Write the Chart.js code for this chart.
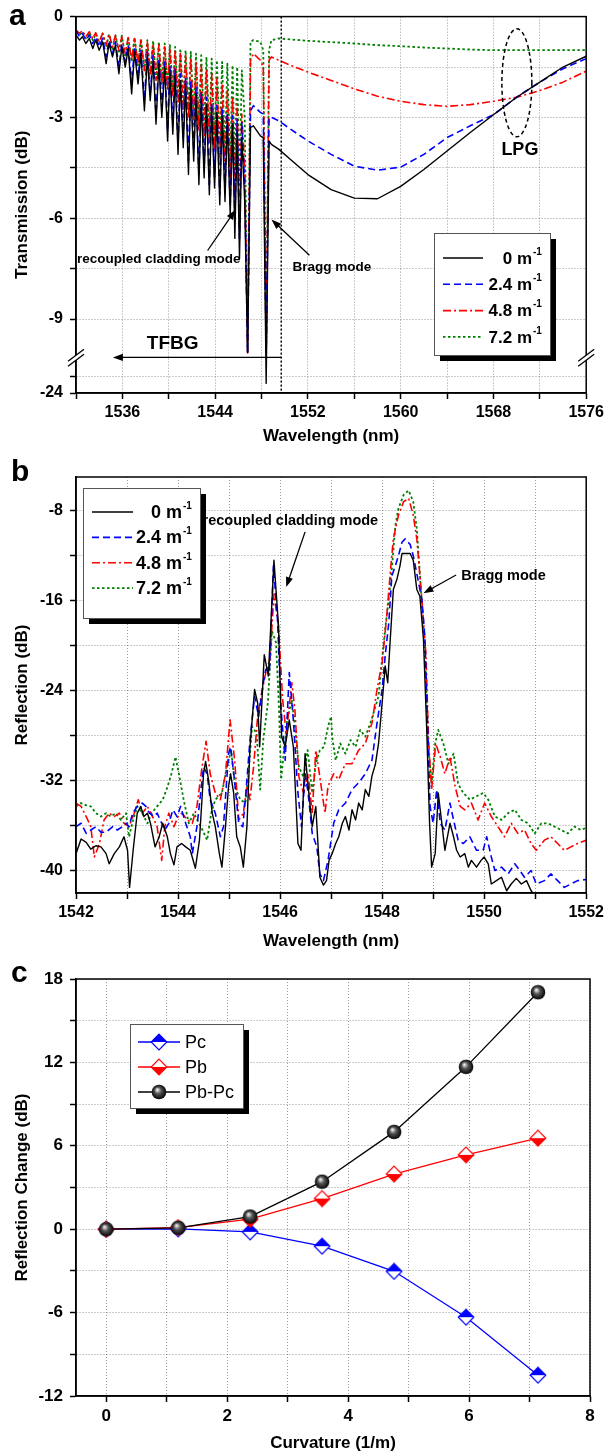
<!DOCTYPE html>
<html>
<head>
<meta charset="utf-8">
<script src="https://cdn.jsdelivr.net/npm/chart.js@4.4.0/dist/chart.umd.min.js"></script>
<style>
  html, body { margin: 0; padding: 0; background: #fff; }
  body { width: 608px; height: 1456px; position: relative; overflow: hidden; }
  canvas { position: absolute; left: 0; }
</style>
</head>
<body>
<canvas id="chartA" width="608" height="450" style="top:0"></canvas>
<canvas id="chartB" width="608" height="505" style="top:450px"></canvas>
<canvas id="chartC" width="608" height="501" style="top:955px"></canvas>
<script>
// ---- panel a : transmission (dB) vs wavelength (nm) ----
const curvLabels = ['0', '2.4', '4.8', '7.2'];

const combWaveA = [1532.0, 1532.3, 1532.55, 1532.85, 1533.15, 1533.45, 1533.7, 1534.0, 1534.3, 1534.6,
  1534.85, 1535.15, 1535.4, 1535.7, 1535.95, 1536.25, 1536.5, 1536.8, 1537.05, 1537.35,
  1537.6, 1537.9, 1538.15, 1538.4, 1538.65, 1538.9, 1539.15, 1539.4, 1539.65, 1539.9,
  1540.1, 1540.35, 1540.55, 1540.8, 1541.0, 1541.25, 1541.45, 1541.7, 1541.9, 1542.15,
  1542.35, 1542.6, 1542.8, 1543.05, 1543.25, 1543.5, 1543.7, 1543.95, 1544.15, 1544.4,
  1544.6, 1544.85, 1545.05, 1545.3, 1545.5, 1545.7, 1545.9, 1546.1, 1546.3];
const tailWaveA = [1546.55, 1546.8, 1547.05, 1547.3, 1547.9, 1548.15, 1548.4, 1548.65, 1548.85, 1549.5,
  1550.5, 1552, 1554, 1556, 1558, 1560, 1562, 1564, 1566, 1568, 1570, 1572, 1574, 1576];

const combA0 = [-0.55, -0.7, -0.6, -0.8, -0.65, -0.95, -0.7, -1.0, -0.75, -1.4, -0.8, -1.2, -0.85, -1.7, -0.9, -1.5,
  -0.95, -2.3, -1.05, -2.0, -1.1, -2.8, -1.2, -2.5, -1.3, -3.2, -1.4, -3.0, -1.5, -3.7, -1.6, -3.5, -1.75, -4.1,
  -1.9, -3.9, -2.0, -4.7, -2.15, -4.3, -2.3, -5.0, -2.45, -4.8, -2.6, -5.3, -2.75, -5.1, -2.85, -5.6, -2.95, -5.5,
  -3.05, -5.9, -3.2, -6.6, -3.4, -7.2, -3.6];
const tailA0 = [-5.5, -10.0, -3.3, -3.25, -3.55, -3.6, -23.7, -3.7, -3.8, -3.95, -4.25, -4.7, -5.15, -5.4, -5.42,
  -5.05, -4.55, -4.0, -3.45, -2.92, -2.4, -1.95, -1.5, -1.18];

const combA24 = [-0.4, -0.6, -0.5, -0.7, -0.55, -0.8, -0.6, -0.9, -0.65, -1.2, -0.7, -1.1, -0.75, -1.5, -0.8, -1.35,
  -0.85, -2.0, -0.9, -1.8, -1.0, -2.5, -1.05, -2.3, -1.15, -2.9, -1.25, -2.7, -1.35, -3.4, -1.45, -3.2, -1.55, -3.8,
  -1.7, -3.6, -1.8, -4.3, -1.95, -4.0, -2.1, -4.7, -2.25, -4.5, -2.4, -5.0, -2.55, -4.8, -2.65, -5.3, -2.75, -5.2,
  -2.85, -5.6, -2.95, -6.0, -3.05, -6.6, -3.15];
const tailA24 = [-5.0, -10.0, -2.8, -2.65, -2.85, -2.9, -10.0, -3.0, -3.0, -3.1, -3.35, -3.7, -4.1, -4.45, -4.57,
  -4.48, -4.1, -3.6, -3.25, -2.92, -2.4, -1.95, -1.55, -1.25];

const combA48 = [-0.4, -0.5, -0.42, -0.6, -0.45, -0.65, -0.48, -0.75, -0.5, -0.85, -0.52, -0.9, -0.55, -1.0, -0.6, -1.1,
  -0.62, -1.3, -0.65, -1.4, -0.7, -1.6, -0.75, -1.7, -0.8, -1.9, -0.85, -2.0, -0.9, -2.2, -0.95, -2.4, -1.0, -2.6,
  -1.1, -2.8, -1.15, -3.0, -1.25, -3.2, -1.35, -3.4, -1.45, -3.6, -1.55, -3.8, -1.7, -4.0, -1.85, -4.2, -2.0, -4.5,
  -2.2, -4.8, -2.4, -5.4, -2.6, -6.2, -2.9];
const tailA48 = [-4.5, -10.0, -1.3, -1.1, -1.3, -1.5, -10.0, -1.3, -1.2, -1.3, -1.45, -1.65, -1.9, -2.15, -2.37,
  -2.52, -2.62, -2.67, -2.62, -2.52, -2.4, -2.2, -1.95, -1.62];

const combA72 = [-0.45, -0.55, -0.45, -0.65, -0.47, -0.7, -0.5, -0.8, -0.5, -0.9, -0.52, -1.0, -0.55, -1.1, -0.57, -1.2,
  -0.6, -1.35, -0.62, -1.45, -0.65, -1.6, -0.7, -1.7, -0.72, -1.85, -0.75, -2.0, -0.8, -2.15, -0.85, -2.3, -0.9, -2.45,
  -0.95, -2.6, -1.0, -2.8, -1.05, -3.0, -1.1, -3.2, -1.15, -3.35, -1.2, -3.5, -1.25, -3.7, -1.3, -3.9, -1.35, -4.1,
  -1.4, -4.3, -1.45, -4.6, -1.5, -5.0, -1.6];
const tailA72 = [-3.0, -10.0, -0.75, -0.7, -0.75, -1.0, -10.0, -1.0, -0.7, -0.65, -0.68, -0.72, -0.76, -0.8, -0.85,
  -0.88, -0.92, -0.95, -0.98, -1.0, -1.0, -1.0, -1.0, -1.0];

const xTicksA = [1532, 1536, 1540, 1544, 1548, 1552, 1556, 1560, 1564, 1568, 1572, 1576];
const yTicksA = [0, -1.5, -3, -4.5, -6, -7.5, -9, -23.5, -24];
const yLabelsA = [0, -3, -6, -9, -24];

// ---- panel b : reflection (dB) vs wavelength (nm) ----
const reflB0 = [[1542.00,-38.5],[1542.10,-37.2],[1542.20,-37.5],[1542.29,-38.1],[1542.39,-37.8],[1542.49,-37.9],
  [1542.59,-38.5],[1542.65,-39.4],[1542.75,-38.5],[1542.85,-37.9],[1542.94,-37.0],[1543.01,-38.2],[1543.05,-41.5],
  [1543.12,-38.2],[1543.20,-34.9],[1543.27,-34.3],[1543.33,-35.2],[1543.40,-34.9],[1543.46,-35.8],[1543.55,-37.9],
  [1543.63,-37.0],[1543.70,-35.8],[1543.79,-37.0],[1543.85,-38.5],[1543.92,-39.5],[1543.98,-37.9],[1544.07,-37.6],
  [1544.15,-37.9],[1544.24,-38.2],[1544.34,-39.8],[1544.42,-37.3],[1544.50,-31.4],[1544.54,-30.3],[1544.60,-32.0],
  [1544.67,-34.9],[1544.73,-36.1],[1544.81,-38.5],[1544.86,-39.7],[1544.93,-36.1],[1544.99,-32.5],[1545.03,-31.4],
  [1545.09,-33.1],[1545.15,-37.0],[1545.22,-37.9],[1545.28,-39.7],[1545.35,-36.1],[1545.41,-29.0],[1545.50,-23.9],
  [1545.56,-25.1],[1545.60,-29.0],[1545.69,-20.8],[1545.77,-22.7],[1545.88,-12.4],[1545.97,-18.3],[1546.03,-28.1],
  [1546.10,-29.0],[1546.18,-26.6],[1546.26,-29.0],[1546.35,-37.6],[1546.41,-38.2],[1546.49,-29.6],[1546.55,-32.5],
  [1546.63,-36.1],[1546.70,-34.3],[1546.78,-40.6],[1546.85,-41.3],[1546.91,-40.9],[1546.96,-39.1],[1547.02,-38.5],
  [1547.09,-37.6],[1547.15,-37.0],[1547.22,-35.8],[1547.28,-35.2],[1547.35,-36.4],[1547.41,-34.6],[1547.48,-35.5],
  [1547.54,-34.0],[1547.61,-34.6],[1547.67,-32.8],[1547.74,-33.4],[1547.80,-31.6],[1547.87,-30.5],[1547.93,-28.7],
  [1548.00,-25.1],[1548.06,-21.8],[1548.11,-23.3],[1548.16,-19.4],[1548.22,-15.0],[1548.29,-14.1],[1548.35,-12.9],
  [1548.39,-11.8],[1548.55,-11.8],[1548.61,-12.4],[1548.68,-15.0],[1548.74,-15.6],[1548.81,-19.4],[1548.87,-26.9],
  [1548.93,-35.8],[1548.97,-39.7],[1549.04,-38.5],[1549.10,-33.1],[1549.17,-35.8],[1549.23,-38.2],[1549.33,-35.8],
  [1549.40,-37.0],[1549.46,-38.2],[1549.53,-38.8],[1549.62,-38.5],[1549.69,-39.7],[1549.75,-39.1],[1549.85,-39.7],
  [1549.94,-39.1],[1550.00,-38.8],[1550.08,-39.4],[1550.14,-41.2],[1550.24,-40.9],[1550.34,-40.6],[1550.44,-41.8],
  [1550.53,-41.2],[1550.63,-40.7],[1550.73,-41.2],[1550.83,-40.9],[1550.92,-41.8],[1550.99,-42.2],[1551.10,-42.6],
  [1551.30,-42.1],[1551.50,-42.5],[1551.80,-42.8],[1552.00,-42.6]];

const reflB24 = [[1542.00,-36.1],[1542.10,-35.8],[1542.20,-36.7],[1542.29,-36.4],[1542.39,-36.1],[1542.49,-36.6],
  [1542.59,-36.6],[1542.72,-36.1],[1542.81,-36.4],[1542.91,-36.1],[1542.98,-35.8],[1543.04,-36.1],[1543.11,-34.9],
  [1543.20,-34.3],[1543.30,-34.0],[1543.37,-34.3],[1543.44,-34.9],[1543.53,-35.2],[1543.59,-34.9],[1543.68,-35.8],
  [1543.74,-36.4],[1543.82,-35.8],[1543.90,-34.6],[1543.98,-35.2],[1544.05,-34.3],[1544.15,-35.8],[1544.24,-37.0],
  [1544.28,-38.5],[1544.37,-36.1],[1544.50,-30.8],[1544.57,-31.4],[1544.63,-33.7],[1544.73,-34.9],[1544.83,-37.0],
  [1544.89,-36.1],[1544.99,-29.6],[1545.03,-29.0],[1545.10,-31.7],[1545.19,-35.8],[1545.27,-36.1],[1545.33,-33.1],
  [1545.41,-28.4],[1545.50,-24.5],[1545.58,-26.3],[1545.66,-23.6],[1545.72,-22.1],[1545.79,-22.4],[1545.87,-12.9],
  [1545.95,-17.7],[1546.02,-25.7],[1546.10,-30.2],[1546.18,-22.4],[1546.26,-26.6],[1546.35,-33.1],[1546.42,-36.1],
  [1546.49,-31.4],[1546.55,-33.1],[1546.63,-36.7],[1546.72,-37.9],[1546.78,-40.3],[1546.85,-40.9],[1546.94,-39.1],
  [1547.05,-35.8],[1547.15,-34.6],[1547.28,-34.0],[1547.41,-32.8],[1547.54,-32.2],[1547.67,-31.4],[1547.80,-30.2],
  [1547.90,-26.9],[1548.00,-23.9],[1548.06,-20.9],[1548.13,-18.0],[1548.19,-13.8],[1548.26,-12.9],[1548.32,-12.0],
  [1548.39,-10.8],[1548.45,-10.5],[1548.55,-11.0],[1548.61,-12.0],[1548.68,-13.6],[1548.78,-15.9],[1548.84,-19.4],
  [1548.89,-26.9],[1548.94,-34.3],[1549.00,-35.8],[1549.07,-32.8],[1549.14,-35.8],[1549.23,-36.4],[1549.33,-34.0],
  [1549.40,-35.5],[1549.49,-37.3],[1549.59,-37.6],[1549.72,-37.0],[1549.85,-38.2],[1549.98,-38.2],[1550.05,-37.0],
  [1550.14,-38.8],[1550.21,-40.0],[1550.34,-39.7],[1550.47,-40.3],[1550.60,-39.4],[1550.70,-40.0],[1550.79,-40.6],
  [1550.92,-40.0],[1551.02,-41.2],[1551.18,-40.9],[1551.31,-40.3],[1551.44,-40.9],[1551.57,-41.5],[1551.70,-41.2],
  [1551.83,-40.9],[1552.00,-40.8]];

const reflB48 = [[1542.00,-34.0],[1542.10,-34.3],[1542.20,-35.2],[1542.29,-36.1],[1542.36,-38.8],[1542.46,-37.6],
  [1542.55,-35.5],[1542.65,-34.9],[1542.75,-35.2],[1542.85,-34.9],[1542.94,-35.8],[1543.04,-36.1],[1543.14,-34.9],
  [1543.22,-33.7],[1543.30,-34.9],[1543.40,-34.3],[1543.50,-35.2],[1543.59,-36.1],[1543.68,-39.1],[1543.74,-36.1],
  [1543.82,-34.9],[1543.92,-36.1],[1544.00,-35.2],[1544.08,-34.9],[1544.18,-35.5],[1544.28,-35.8],[1544.37,-34.3],
  [1544.47,-30.8],[1544.55,-28.5],[1544.63,-31.4],[1544.73,-33.1],[1544.83,-33.7],[1544.93,-31.4],[1545.02,-26.6],
  [1545.11,-30.2],[1545.19,-35.5],[1545.28,-34.9],[1545.35,-32.5],[1545.41,-33.7],[1545.48,-30.8],[1545.56,-26.3],
  [1545.64,-24.2],[1545.72,-22.4],[1545.80,-21.2],[1545.88,-15.4],[1545.97,-18.3],[1546.05,-24.8],[1546.12,-27.8],
  [1546.23,-23.3],[1546.29,-25.7],[1546.37,-31.7],[1546.46,-33.1],[1546.55,-31.4],[1546.63,-34.9],[1546.70,-29.3],
  [1546.78,-31.7],[1546.88,-34.9],[1546.94,-32.5],[1547.05,-31.4],[1547.15,-31.9],[1547.28,-30.5],[1547.41,-30.5],
  [1547.54,-29.3],[1547.67,-28.7],[1547.80,-26.9],[1547.90,-23.9],[1548.00,-21.5],[1548.09,-17.4],[1548.16,-13.5],
  [1548.22,-10.5],[1548.32,-8.4],[1548.42,-7.2],[1548.52,-6.9],[1548.61,-8.4],[1548.68,-10.5],[1548.78,-15.9],
  [1548.86,-20.9],[1548.91,-28.4],[1548.97,-32.8],[1549.05,-28.7],[1549.14,-29.9],[1549.23,-31.4],[1549.33,-29.9],
  [1549.43,-32.5],[1549.53,-34.3],[1549.62,-34.6],[1549.75,-34.0],[1549.88,-35.5],[1550.01,-34.0],[1550.14,-35.2],
  [1550.27,-36.1],[1550.40,-37.0],[1550.53,-35.8],[1550.66,-36.7],[1550.79,-36.4],[1550.92,-37.6],[1551.02,-38.2],
  [1551.18,-37.3],[1551.31,-37.0],[1551.44,-37.6],[1551.57,-38.2],[1551.70,-37.9],[1551.83,-37.6],[1552.00,-37.3]];

const reflB72 = [[1542.00,-34.3],[1542.10,-34.0],[1542.20,-34.2],[1542.29,-34.3],[1542.39,-34.9],[1542.49,-35.2],
  [1542.59,-34.9],[1542.68,-35.2],[1542.78,-34.9],[1542.88,-35.5],[1542.98,-34.9],[1543.04,-37.0],[1543.12,-35.5],
  [1543.20,-34.3],[1543.30,-34.9],[1543.40,-35.8],[1543.48,-34.9],[1543.59,-34.3],[1543.70,-33.7],[1543.79,-32.6],
  [1543.87,-31.4],[1543.95,-29.9],[1544.03,-31.7],[1544.11,-33.7],[1544.21,-35.8],[1544.31,-34.9],[1544.41,-35.8],
  [1544.48,-36.4],[1544.57,-37.3],[1544.65,-34.9],[1544.73,-33.7],[1544.86,-33.1],[1544.96,-30.8],[1545.04,-29.3],
  [1545.12,-32.6],[1545.22,-33.7],[1545.32,-34.0],[1545.38,-31.4],[1545.45,-27.2],[1545.54,-27.8],[1545.61,-32.8],
  [1545.67,-28.4],[1545.76,-25.1],[1545.84,-18.7],[1545.92,-19.7],[1545.98,-25.7],[1546.02,-31.9],[1546.07,-29.6],
  [1546.14,-26.6],[1546.23,-24.8],[1546.29,-27.2],[1546.37,-30.8],[1546.46,-31.7],[1546.54,-29.3],[1546.63,-33.1],
  [1546.70,-30.5],[1546.78,-29.3],[1546.86,-29.0],[1546.94,-27.2],[1547.00,-26.3],[1547.02,-28.1],[1547.09,-30.2],
  [1547.18,-28.7],[1547.28,-29.6],[1547.38,-28.4],[1547.48,-29.0],[1547.57,-27.5],[1547.67,-28.1],[1547.77,-26.9],
  [1547.87,-25.4],[1547.93,-24.5],[1548.00,-21.2],[1548.06,-18.5],[1548.13,-15.9],[1548.19,-13.2],[1548.26,-9.3],
  [1548.32,-7.8],[1548.42,-6.6],[1548.52,-6.2],[1548.61,-7.2],[1548.68,-9.6],[1548.76,-15.0],[1548.84,-20.9],
  [1548.91,-29.3],[1548.97,-32.2],[1549.04,-28.7],[1549.10,-27.5],[1549.20,-28.7],[1549.30,-30.5],[1549.40,-29.6],
  [1549.49,-32.3],[1549.59,-33.1],[1549.72,-33.7],[1549.85,-33.4],[1549.98,-33.1],[1550.08,-33.7],[1550.21,-35.2],
  [1550.34,-35.5],[1550.47,-34.9],[1550.60,-34.6],[1550.73,-35.5],[1550.86,-35.8],[1550.99,-36.7],[1551.12,-35.8],
  [1551.25,-35.8],[1551.38,-36.1],[1551.51,-36.4],[1551.64,-36.7],[1551.77,-36.1],[1551.90,-36.4],[1552.00,-36.2]];

const xTicksB = [1542, 1543, 1544, 1545, 1546, 1547, 1548, 1549, 1550, 1551, 1552];
const yTicksB = [-40, -36, -32, -28, -24, -20, -16, -12, -8];

// ---- panel c : reflection change (dB) vs curvature (1/m) ----
const curvatureC = [0, 1.19, 2.38, 3.57, 4.76, 5.95, 7.14];
const pcC = [0, 0.02, -0.19, -1.22, -3.03, -6.33, -10.5];
const pbC = [0, 0.12, 0.72, 2.2, 3.97, 5.35, 6.55];
const pbpcC = [0, 0.1, 0.91, 3.42, 7.0, 11.68, 17.05];
const xTicksC = [0, 1, 2, 3, 4, 5, 6, 7, 8];
const yTicksC = [-12, -9, -6, -3, 0, 3, 6, 9, 12, 15, 18];

// ---------------------------------------------------------------
Chart.defaults.font.family = "'Liberation Sans', Arial, Helvetica, sans-serif";
Chart.defaults.color = '#000';
Chart.defaults.animation = false;
Chart.defaults.events = [];

const lineStyles = [
  {borderColor: '#000000', borderDash: [], borderWidth: 1.4},
  {borderColor: '#0000ff', borderDash: [7, 4], borderWidth: 1.6},
  {borderColor: '#ff0000', borderDash: [8, 3, 2, 3], borderWidth: 1.6},
  {borderColor: '#008000', borderDash: [2.5, 2.5], borderWidth: 1.8}
];

// axis break for panel a: values below -22.9 dB are squeezed under -10.15
function brk(v) { return v > -10.5 ? v : -10.15 - (-22.9 - v) * (1.05 / 1.1); }

function linAxis(o) {
  return {
    type: 'linear', min: o.min, max: o.max,
    afterBuildTicks: s => { s.ticks = o.ticks.map(v => ({value: o.map ? o.map(v) : v})); },
    afterFit: s => { if (o.width) s.width = o.width; if (o.height) s.height = o.height; },
    ticks: {
      autoSkip: false, maxRotation: 0, padding: o.pad,
      font: {size: o.fsize || 16, weight: 'bold'},
      callback: (v, i) => o.show(o.ticks[i]) ? String(o.ticks[i]) : ''
    },
    grid: {color: 'rgba(0,0,0,0.4)', lineWidth: 1, tickLength: 6, tickColor: '#000', tickWidth: 1.5, tickBorderDash: []},
    border: {color: '#000', width: 1.5, dash: [1, 2]},
    title: {display: true, text: o.title, font: {size: 17, weight: 'bold'}, padding: o.tpad}
  };
}

function arrow(ctx, x1, y1, x2, y2) {
  const a = Math.atan2(y2 - y1, x2 - x1), L = 10, W = 3.6;
  ctx.beginPath(); ctx.moveTo(x1, y1);
  ctx.lineTo(x2 - Math.cos(a) * L * 0.8, y2 - Math.sin(a) * L * 0.8); ctx.stroke();
  ctx.beginPath(); ctx.moveTo(x2, y2);
  ctx.lineTo(x2 - Math.cos(a) * L + Math.sin(a) * W, y2 - Math.sin(a) * L - Math.cos(a) * W);
  ctx.lineTo(x2 - Math.cos(a) * L - Math.sin(a) * W, y2 - Math.sin(a) * L + Math.cos(a) * W);
  ctx.closePath(); ctx.fill();
}

function frame(chart) {
  const {ctx, chartArea: ca} = chart;
  ctx.save(); ctx.strokeStyle = '#000'; ctx.lineWidth = 1.5; ctx.setLineDash([]);
  ctx.strokeRect(ca.left, ca.top, ca.right - ca.left, ca.bottom - ca.top);
  ctx.restore();
}

function letter(ctx, t, x, y) {
  ctx.save(); ctx.fillStyle = '#000'; ctx.font = "bold 30px 'Liberation Sans', Arial";
  ctx.textBaseline = 'alphabetic'; ctx.textAlign = 'left'; ctx.fillText(t, x, y); ctx.restore();
}

function curvLegend(chart, b) {
  const ctx = chart.ctx;
  ctx.save();
  ctx.fillStyle = '#000'; ctx.fillRect(b.x + 6, b.y + 6, b.w, b.h);
  ctx.fillStyle = '#fff'; ctx.fillRect(b.x, b.y, b.w, b.h);
  ctx.strokeStyle = '#555'; ctx.lineWidth = 1; ctx.strokeRect(b.x + 0.5, b.y + 0.5, b.w, b.h);
  chart.data.datasets.forEach((ds, i) => {
    const y = b.y + b.first + i * b.step;
    ctx.beginPath(); ctx.setLineDash(ds.borderDash); ctx.strokeStyle = ds.borderColor; ctx.lineWidth = ds.borderWidth;
    ctx.moveTo(b.lx1, y); ctx.lineTo(b.lx2, y); ctx.stroke();
    ctx.setLineDash([]); ctx.fillStyle = '#000';
    ctx.font = "bold " + b.fs + "px 'Liberation Sans', Arial"; ctx.textAlign = 'right'; ctx.textBaseline = 'middle';
    ctx.fillText(ds.label + ' m', b.tx, y + 1);
    ctx.font = "bold 10px 'Liberation Sans', Arial"; ctx.textAlign = 'left';
    ctx.fillText('-1', b.tx + 1, y - 6);
  });
  ctx.restore();
}

function transData(comb, tail) {
  const wave = combWaveA.concat(tailWaveA), vals = comb.concat(tail);
  return wave.map((x, i) => ({x: x, y: brk(vals[i])}));
}

// ---------------- chart a ----------------
new Chart(document.getElementById('chartA'), {
  type: 'line',
  data: {
    datasets: [[combA0, tailA0], [combA24, tailA24], [combA48, tailA48], [combA72, tailA72]].map((p, i) => Object.assign({
      label: curvLabels[i], data: transData(p[0], p[1]), pointRadius: 0, tension: 0, fill: false, borderJoinStyle: 'round'
    }, lineStyles[i]))
  },
  options: {
    responsive: false,
    layout: {padding: {top: 13, right: 21, left: 0, bottom: 0}},
    plugins: {legend: {display: false}, tooltip: {enabled: false}},
    scales: {
      x: linAxis({min: 1532, max: 1576, ticks: xTicksA, show: v => (v - 1536) % 8 === 0, pad: 4, height: 57,
        title: 'Wavelength (nm)', tpad: {top: 0, bottom: 3}}),
      y: linAxis({min: brk(-24), max: 0, ticks: yTicksA, map: brk, show: v => yLabelsA.includes(v), pad: 7, width: 76,
        title: 'Transmission (dB)', tpad: {top: 12, bottom: 0}})
    }
  },
  plugins: [{
    id: 'decoA',
    afterDraw(chart) {
      const {ctx, chartArea: ca, scales: {x, y}} = chart;
      const px = v => x.getPixelForValue(v), py = v => y.getPixelForValue(v);
      frame(chart);
      ctx.save();
      ctx.strokeStyle = '#000'; ctx.fillStyle = '#000';
      // TFBG / LPG boundary
      ctx.lineWidth = 1.5; ctx.setLineDash([2, 2]);
      ctx.beginPath(); ctx.moveTo(px(1549.7), ca.top); ctx.lineTo(px(1549.7), ca.bottom); ctx.stroke();
      ctx.setLineDash([]); ctx.lineWidth = 1.3;
      arrow(ctx, px(1549.7), py(-10.14), px(1535.18), py(-10.14));
      arrow(ctx, px(1543.35), py(-6.96), px(1545.76), py(-5.75));
      arrow(ctx, px(1552.13), py(-7.10), px(1548.86), py(-6.04));
      ctx.textBaseline = 'middle';
      ctx.font = "bold 13.5px 'Liberation Sans', Arial"; ctx.textAlign = 'left';
      ctx.fillText('recoupled cladding mode', px(1532.09), py(-7.22));
      ctx.fillText('Bragg mode', px(1550.67), py(-7.46));
      ctx.font = "bold 19px 'Liberation Sans', Arial"; ctx.textAlign = 'center';
      ctx.fillText('TFBG', px(1540.34), py(-9.73));
      ctx.font = "bold 18px 'Liberation Sans', Arial";
      ctx.fillText('LPG', px(1570.28), py(-3.98));
      ctx.lineWidth = 1.5; ctx.setLineDash([4, 3]);
      ctx.beginPath(); ctx.ellipse(px(1570.02), py(-1.97), 15, 54, 0, 0, Math.PI * 2); ctx.stroke();
      ctx.setLineDash([]);
      // axis break marks
      const yb = py(-10.15);
      [ca.left, ca.right].forEach(xb => {
        ctx.fillStyle = '#fff';
        ctx.beginPath();
        ctx.moveTo(xb - 8, yb - 2.5 + 6); ctx.lineTo(xb + 8, yb - 2.5 - 6);
        ctx.lineTo(xb + 8, yb + 2.5 - 6); ctx.lineTo(xb - 8, yb + 2.5 + 6); ctx.closePath(); ctx.fill();
        ctx.lineWidth = 1.3; ctx.strokeStyle = '#000';
        ctx.beginPath(); ctx.moveTo(xb - 8, yb - 2.5 + 6); ctx.lineTo(xb + 8, yb - 2.5 - 6); ctx.stroke();
        ctx.beginPath(); ctx.moveTo(xb - 8, yb + 2.5 + 6); ctx.lineTo(xb + 8, yb + 2.5 - 6); ctx.stroke();
      });
      ctx.restore();
      curvLegend(chart, {x: 434, y: 233, w: 116, h: 122, first: 25, step: 26.3, lx1: 443, lx2: 483, tx: 532, fs: 17});
      letter(ctx, 'a', 9, 25);
    }
  }]
});

// ---------------- chart b ----------------
new Chart(document.getElementById('chartB'), {
  type: 'line',
  data: {
    datasets: [reflB0, reflB24, reflB48, reflB72].map((s, i) => Object.assign({
      label: curvLabels[i], data: s.map(p => ({x: p[0], y: p[1]})), pointRadius: 0, tension: 0, fill: false,
      borderJoinStyle: 'round'
    }, lineStyles[i]))
  },
  options: {
    responsive: false,
    layout: {padding: {top: 27, right: 21, left: 0, bottom: 0}},
    plugins: {legend: {display: false}, tooltip: {enabled: false}},
    scales: {
      x: linAxis({min: 1542, max: 1552, ticks: xTicksB, show: v => v % 2 === 0, pad: 4, height: 62,
        title: 'Wavelength (nm)', tpad: {top: 0, bottom: 3}}),
      y: linAxis({min: -42, max: -5, ticks: yTicksB, show: v => v % 8 === 0, pad: 7, width: 76,
        title: 'Reflection (dB)', tpad: {top: 12, bottom: 0}})
    }
  },
  plugins: [{
    id: 'decoB',
    afterDraw(chart) {
      const {ctx, scales: {x, y}} = chart;
      const px = v => x.getPixelForValue(v), py = v => y.getPixelForValue(v);
      frame(chart);
      ctx.save();
      ctx.strokeStyle = '#000'; ctx.fillStyle = '#000'; ctx.lineWidth = 1.3;
      arrow(ctx, px(1546.49), py(-9.88), px(1546.12), py(-14.79));
      arrow(ctx, px(1549.45), py(-13.72), px(1548.81), py(-15.33));
      ctx.font = "bold 14.5px 'Liberation Sans', Arial"; ctx.textAlign = 'left'; ctx.textBaseline = 'middle';
      ctx.fillText('recoupled cladding mode', px(1544.48), py(-8.89));
      ctx.fillText('Bragg mode', px(1549.55), py(-13.81));
      ctx.restore();
      curvLegend(chart, {x: 83, y: 38, w: 117, h: 130, first: 24, step: 25.4, lx1: 92, lx2: 133, tx: 182, fs: 18});
      letter(ctx, 'b', 11, 31);
    }
  }]
});

// ---------------- chart c ----------------
function halfDiamond(color, topFilled) {
  const c = document.createElement('canvas'); c.width = 18; c.height = 18;
  const g = c.getContext('2d'), m = 9, r = 7.8;
  g.beginPath(); g.moveTo(m, m - r); g.lineTo(m + r, m); g.lineTo(m - r, m); g.closePath();
  g.fillStyle = topFilled ? color : '#fff'; g.fill();
  g.beginPath(); g.moveTo(m - r, m); g.lineTo(m + r, m); g.lineTo(m, m + r); g.closePath();
  g.fillStyle = topFilled ? '#fff' : color; g.fill();
  g.lineWidth = 1.2; g.strokeStyle = color;
  g.beginPath(); g.moveTo(m, m - r); g.lineTo(m + r, m); g.lineTo(m, m + r); g.lineTo(m - r, m); g.closePath(); g.stroke();
  return c;
}
function ball() {
  const c = document.createElement('canvas'); c.width = 16; c.height = 16;
  const g = c.getContext('2d');
  const grd = g.createRadialGradient(6.2, 5.6, 0.5, 8, 8, 7.5);
  grd.addColorStop(0, '#eeeeee'); grd.addColorStop(0.4, '#555555'); grd.addColorStop(1, '#000000');
  g.fillStyle = grd; g.beginPath(); g.arc(8, 8, 7.3, 0, Math.PI * 2); g.fill();
  return c;
}
const markC = [halfDiamond('#0000ff', true), halfDiamond('#ff0000', false), ball()];
const namesC = ['Pc', 'Pb', 'Pb-Pc'];
const colorsC = ['#0000ff', '#ff0000', '#000000'];

new Chart(document.getElementById('chartC'), {
  type: 'line',
  data: {
    datasets: [pcC, pbC, pbpcC].map((s, i) => ({
      label: namesC[i], data: curvatureC.map((x, k) => ({x: x, y: s[k]})),
      borderColor: colorsC[i], borderWidth: 1.3, pointStyle: markC[i], pointRadius: 8,
      tension: 0, fill: false, order: 2 - i
    }))
  },
  options: {
    responsive: false,
    layout: {padding: {top: 24, right: 18, left: 0, bottom: 0}},
    plugins: {legend: {display: false}, tooltip: {enabled: false}},
    scales: {
      x: linAxis({min: -0.5, max: 8, ticks: xTicksC, show: v => v % 2 === 0, pad: 4, height: 60, fsize: 17,
        title: 'Curvature (1/m)', tpad: {top: 0, bottom: 2}}),
      y: linAxis({min: -12, max: 18, ticks: yTicksC, show: v => v % 6 === 0, pad: 7, width: 76, fsize: 17,
        title: 'Reflection Change (dB)', tpad: {top: 12, bottom: 0}})
    }
  },
  plugins: [{
    id: 'decoC',
    afterDraw(chart) {
      const ctx = chart.ctx;
      frame(chart);
      const b = {x: 130, y: 69, w: 113, h: 84};
      ctx.save();
      ctx.fillStyle = '#000'; ctx.fillRect(b.x + 6, b.y + 6, b.w, b.h);
      ctx.fillStyle = '#fff'; ctx.fillRect(b.x, b.y, b.w, b.h);
      ctx.strokeStyle = '#555'; ctx.lineWidth = 1; ctx.strokeRect(b.x + 0.5, b.y + 0.5, b.w, b.h);
      chart.data.datasets.forEach((ds, i) => {
        const y = b.y + 18 + i * 25;
        ctx.beginPath(); ctx.strokeStyle = ds.borderColor; ctx.lineWidth = 1.3;
        ctx.moveTo(138, y); ctx.lineTo(180, y); ctx.stroke();
        ctx.drawImage(ds.pointStyle, 159 - ds.pointStyle.width / 2, y - ds.pointStyle.height / 2);
        ctx.fillStyle = '#000'; ctx.font = "18px 'Liberation Sans', Arial";
        ctx.textAlign = 'left'; ctx.textBaseline = 'middle';
        ctx.fillText(ds.label, 185, y + 1);
      });
      ctx.restore();
      letter(ctx, 'c', 11, 27);
    }
  }]
});
</script>
</body>
</html>
